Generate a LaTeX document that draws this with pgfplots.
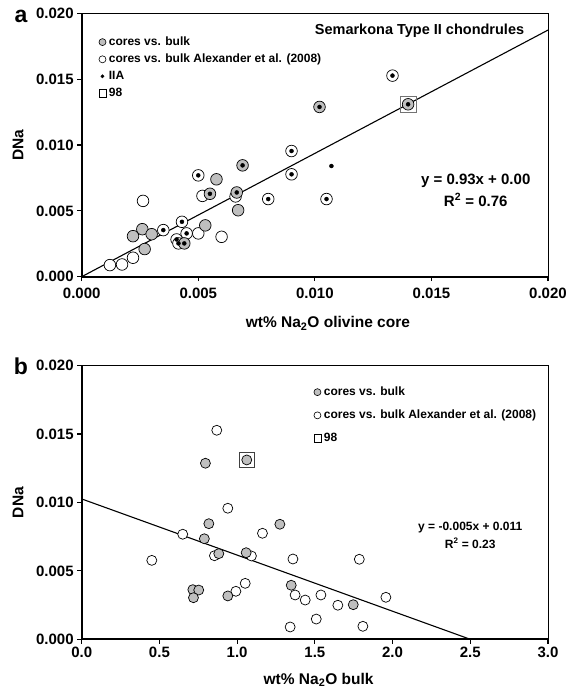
\documentclass[border=0pt]{standalone}
\usepackage{fontspec}
\setmainfont{Liberation Sans}
\usepackage{pgfplots}
\pgfplotsset{compat=1.18}

\definecolor{ptgray}{gray}{0.75}

\pgfplotsset{
  panel/.style={
    scale only axis, width=466.3pt, anchor=south west,
    axis line style={line width=0.8pt},
    tick align=outside, xtick pos=bottom, ytick pos=left,
    major tick length=4.5pt,
    tick style={line width=1.2pt, black},
    scaled ticks=false,
    ymin=0, ymax=0.02, ytick={0,0.005,0.01,0.015,0.02},
    yticklabel style={/pgf/number format/.cd, fixed, fixed zerofill, precision=3},
    tick label style={font=\fontsize{15}{16}\selectfont\bfseries},
    /pgf/number format/assume math mode=true,
    label style={font=\fontsize{15.5}{18}\selectfont\bfseries},
    ylabel={DNa},
    ylabel style={at={(axis description cs:-0.1366,0.5)}, anchor=center},
    legend cell align=left,
    after end axis/.code={\draw[line width=1.8pt] (rel axis cs:0,1) -- (rel axis cs:0,0) -- (rel axis cs:1,0);},
  },
  core/.style={only marks, mark=*, mark options={fill=ptgray, draw=black, line width=0.7pt}},
  alex/.style={only marks, mark=*, mark options={fill=white, draw=black, line width=0.7pt}},
  iia/.style={only marks, mark=*, mark size=2pt, mark options={fill=black, draw=black}},
}

\begin{document}
\begin{tikzpicture}

% ---- panel a ----
\begin{axis}[panel, at={(81.7pt,411.3pt)}, height=263.2pt,
    xmin=0, xmax=0.02, xtick={0,0.005,0.01,0.015,0.02},
    xticklabel style={/pgf/number format/.cd, fixed, fixed zerofill, precision=3, /tikz/yshift=-3pt},
    xlabel={wt\% Na\textsubscript{2}O olivine core},
    xlabel style={at={(axis description cs:0.528,-0.177)}, anchor=center},
    legend style={draw=none, fill=none, at={(rel axis cs:0.036,0.919)}, anchor=north west,
      font=\fontsize{12}{13}\selectfont\bfseries, row sep=3pt, inner sep=0pt},
]
\addplot[black, line width=1.1pt, forget plot] coordinates {(0,0) (0.02,0.01874)};
\addplot[alex, mark size=5.8pt, forget plot] coordinates {
 (0.00121,0.00088) (0.00173,0.00093) (0.0022,0.00144) (0.00263,0.00576)
 (0.0035,0.00354) (0.0043,0.00417) (0.00407,0.00283) (0.00415,0.00253)
 (0.0045,0.00329) (0.0050,0.00329) (0.0060,0.00303) (0.0050,0.0077)
 (0.00518,0.00614) (0.0066,0.0061) (0.0080,0.0059) (0.0090,0.00778)
 (0.0090,0.00955) (0.0105,0.0059) (0.01333,0.01528)};
\addplot[only marks, mark=square, mark size=8pt, mark options={draw=black!55, line width=0.9pt}, forget plot]
 coordinates {(0.0140,0.0131)};
\addplot[core, mark size=5.8pt, forget plot] coordinates {
 (0.0102,0.0129) (0.0140,0.0131) (0.0069,0.00846) (0.00578,0.0074)
 (0.0055,0.0063) (0.00665,0.0064) (0.00671,0.00505) (0.0053,0.0039)
 (0.0044,0.00253) (0.0026,0.00361) (0.0022,0.00308) (0.0030,0.00323)
 (0.0027,0.0021)};
\addplot[iia, forget plot] coordinates {
 (0.01333,0.01528) (0.0140,0.0131) (0.0102,0.0129) (0.0090,0.00955)
 (0.0069,0.00846) (0.0090,0.00778) (0.01071,0.00841) (0.0050,0.0077)
 (0.0080,0.0059) (0.0105,0.0059) (0.0055,0.0063) (0.00665,0.0064)
 (0.0043,0.00417) (0.0035,0.00354) (0.0045,0.00329) (0.00407,0.00283)
 (0.00415,0.00253) (0.0044,0.00253)};
\addlegendimage{legend image code/.code={\draw[fill=ptgray, draw=black, line width=0.6pt] (3.5pt,0) circle (3.5pt);}}
\addlegendentry{cores vs. bulk}
\addlegendimage{legend image code/.code={\draw[fill=white, draw=black, line width=0.6pt] (3.5pt,0) circle (3.5pt);}}
\addlegendentry{cores vs. bulk Alexander et al. (2008)}
\addlegendimage{legend image code/.code={\fill[black] (3.5pt,0) circle (1.7pt);}}
\addlegendentry{IIA}
\addlegendimage{legend image code/.code={\draw[black, line width=0.6pt] (0,-3.8pt) rectangle (7.6pt,3.8pt);}}
\addlegendentry{98}
\node[font=\fontsize{14.5}{16}\selectfont\bfseries] at (axis cs:0.01449,0.01869) {Semarkona Type II chondrules};
\node[align=center, font=\fontsize{15}{21.7}\selectfont\bfseries] at (axis cs:0.0169,0.00658)
 {y = 0.93x + 0.00\\R\textsuperscript{2} = 0.76};
\end{axis}

% ---- panel b ----
\begin{axis}[panel, at={(81.7pt,48.7pt)}, height=273.6pt,
    xmin=0, xmax=3, xtick={0,0.5,1,1.5,2,2.5,3},
    xticklabel style={/pgf/number format/.cd, fixed, fixed zerofill, precision=1},
    xlabel={wt\% Na\textsubscript{2}O bulk},
    xlabel style={at={(axis description cs:0.508,-0.149)}, anchor=center},
    legend style={draw=none, fill=none, at={(rel axis cs:0.497,0.930)}, anchor=north west,
      font=\fontsize{12}{13}\selectfont\bfseries, row sep=9pt, inner sep=0pt},
]
\addplot[black, line width=1.1pt, forget plot] coordinates {(0,0.01026) (2.5,0)};
\addplot[alex, mark size=5pt, forget plot] coordinates {
 (0.451,0.00577) (0.650,0.00768) (0.940,0.00958) (0.854,0.00611)
 (1.092,0.00609) (1.163,0.00775) (1.359,0.00587) (0.992,0.00351)
 (1.052,0.00409) (1.341,0.0009) (1.373,0.00324) (1.786,0.00585)
 (1.438,0.00287) (1.539,0.00324) (1.648,0.00249) (1.957,0.00307)
 (1.509,0.00148) (1.809,0.00095) (0.869,0.01528)};
\addplot[only marks, mark=square, mark size=7.3pt, mark options={draw=black!75, line width=0.9pt}, forget plot]
 coordinates {(1.062,0.01311)};
\addplot[core, mark size=5pt, forget plot] coordinates {
 (0.818,0.00845) (0.789,0.00735) (0.882,0.00626) (1.058,0.00633)
 (1.275,0.00841) (0.715,0.00363) (0.753,0.0036) (0.719,0.00304)
 (0.940,0.00317) (1.348,0.00395) (1.747,0.00253) (0.796,0.01287)
 (1.062,0.01311)};
\addlegendimage{legend image code/.code={\draw[fill=ptgray, draw=black, line width=0.6pt] (3.5pt,0) circle (3.5pt);}}
\addlegendentry{cores vs. bulk}
\addlegendimage{legend image code/.code={\draw[fill=white, draw=black, line width=0.6pt] (3.5pt,0) circle (3.5pt);}}
\addlegendentry{cores vs. bulk Alexander et al. (2008)}
\addlegendimage{legend image code/.code={\draw[black, line width=0.6pt] (0,-3.8pt) rectangle (7.6pt,3.8pt);}}
\addlegendentry{98}
\node[align=center, font=\fontsize{12}{17.3}\selectfont\bfseries] at (axis cs:2.5,0.0076)
 {y = -0.005x + 0.011\\R\textsuperscript{2} = 0.23};
\end{axis}

\node[font=\fontsize{23}{26}\selectfont\bfseries] at (21pt,672pt) {a};
\node[font=\fontsize{23}{26}\selectfont\bfseries] at (21pt,322pt) {b};

\pgfresetboundingbox
\path[use as bounding box] (0pt,0pt) rectangle (573pt,688pt);
\end{tikzpicture}
\end{document}
